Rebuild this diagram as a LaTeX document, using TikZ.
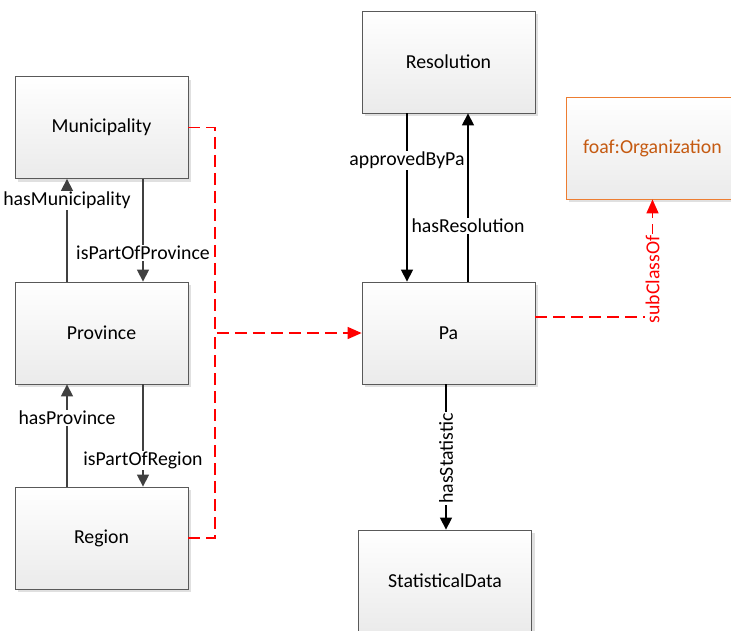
\documentclass[tikz,border=0pt]{standalone}
\usepackage{fontspec}
\setmainfont{Carlito}
\usetikzlibrary{arrows.meta,shadows}
\definecolor{orgorange}{HTML}{ED7D31}
\definecolor{orgtext}{HTML}{C55A11}
\definecolor{boxline}{HTML}{595959}
\definecolor{leftline}{HTML}{404040}
\begin{document}
\begin{tikzpicture}[
  x=1pt, y=-1pt,
  font=\fontsize{19.8}{23}\selectfont,
  class/.style = {shape=rectangle, draw=boxline, line width=0.8pt,
    minimum width=173pt, minimum height=102pt,
    top color=white, bottom color=black!8,
    drop shadow={shadow xshift=3pt, shadow yshift=-3pt,
      fill=black!12, opacity=1}},
  rel/.style = {line width=1.3pt, -{Triangle[length=12pt,width=12pt]}},
  lbl/.style = {fill=white, text=black, inner sep=1pt},
  sub/.style = {red, line width=1.5pt, dash pattern=on 12pt off 6pt,
    -{Triangle[length=14pt,width=12pt]}}
  ]
  \clip (0,0) rectangle (731,630);
  % classes on the left
  \node[class] (mun) at (101.5,127.5) {Municipality};
  \node[class] (prov) at (101.5,333) {Province};
  \node[class] (reg) at (101.5,538) {Region};
  % classes on the right
  \node[class] (res) at (448.5,62) {Resolution};
  \node[class] (pa) at (448.5,333) {Pa};
  \node[class] (stat) at (445,581) {StatisticalData};
  \node[class, draw=orgorange, text=orgtext] (org) at (652.5,148) {foaf:Organization};
  % properties
  \draw[rel, leftline] ([xshift=41.5pt]mun.south) -- node[lbl, pos=0.72] {isPartOfProvince} ([xshift=41.5pt]prov.north);
  \draw[rel, leftline] ([xshift=-34.5pt]prov.north) -- node[lbl, pos=0.79] {hasMunicipality} ([xshift=-34.5pt]mun.south);
  \draw[rel, leftline] ([xshift=41.5pt]prov.south) -- node[lbl, pos=0.74] {isPartOfRegion} ([xshift=41.5pt]reg.north);
  \draw[rel, leftline] ([xshift=-34.5pt]reg.north) -- node[lbl, pos=0.67] {hasProvince} ([xshift=-34.5pt]prov.south);
  \draw[rel] ([xshift=-41.5pt]res.south) -- node[lbl, pos=0.28] {approvedByPa} ([xshift=-41.5pt]pa.north);
  \draw[rel] ([xshift=19.5pt]pa.north) -- node[lbl, pos=0.33] {hasResolution} ([xshift=19.5pt]res.south);
  \draw[rel] ([xshift=-2.5pt]pa.south) -- node[lbl, pos=0.51, rotate=90] {hasStatistic} ([xshift=-2.5pt]pa.south |- stat.north);
  % subclass links
  \coordinate (join) at (215,333);
  \draw[sub] (mun.east) -| (join) -- (pa.west);
  \draw[sub, -] (reg.east) -| (join);
  \draw[sub] ([yshift=16pt]pa.east) -| node[lbl, pos=0.66, rotate=90, text=red] {subClassOf} (org.south);
\end{tikzpicture}
\end{document}
